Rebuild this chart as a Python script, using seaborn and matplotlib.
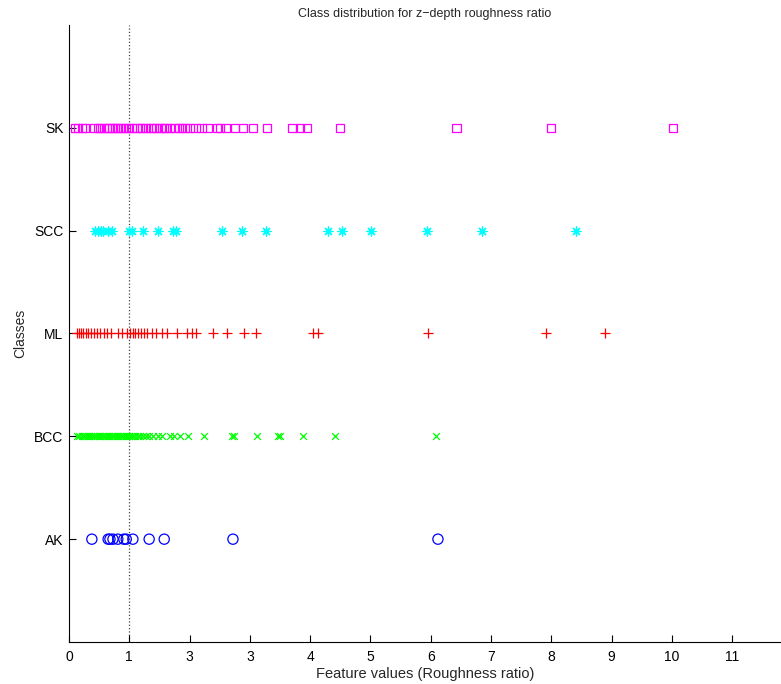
import pandas as pd
import seaborn as sns
import matplotlib.pyplot as plt

# class names (bottom to top) and feature values
classes = ["AK", "BCC", "ML", "SCC", "SK"]

ak_vals = [0.38, 0.65, 0.68, 0.73, 0.81, 0.91, 0.95, 1.06, 1.33, 1.58, 2.72, 6.12]

bcc_vals = [0.13, 0.17, 0.21, 0.25, 0.28, 0.31, 0.34, 0.37, 0.40, 0.43, 0.46,
            0.49, 0.52, 0.55, 0.58, 0.61, 0.64, 0.67, 0.70, 0.73, 0.76, 0.79,
            0.82, 0.85, 0.88, 0.91, 0.94, 0.97, 1.00, 1.03, 1.06, 1.10, 1.14,
            1.18, 1.22, 1.27, 1.33, 1.40, 1.47, 1.55, 1.67, 1.75, 1.84, 1.97,
            2.24, 2.70, 2.74, 3.12, 3.47, 3.50, 3.88, 4.41, 6.09]

ml_vals = [0.13, 0.17, 0.20, 0.24, 0.28, 0.32, 0.37, 0.42, 0.47, 0.52, 0.58,
           0.63, 0.70, 0.81, 0.88, 0.96, 1.01, 1.06, 1.10, 1.15, 1.20, 1.25,
           1.30, 1.38, 1.45, 1.54, 1.63, 1.79, 1.96, 2.04, 2.11, 2.39, 2.62,
           2.90, 3.10, 4.05, 4.13, 5.95, 7.91, 8.89]

scc_vals = [0.43, 0.48, 0.53, 0.56, 0.65, 0.71, 1.00, 1.04, 1.23, 1.48, 1.72,
            1.77, 2.54, 2.87, 3.27, 4.30, 4.53, 5.01, 5.94, 6.85, 8.41]

sk_vals = [0.10, 0.15, 0.22, 0.27, 0.42, 0.48, 0.52, 0.58, 0.63, 0.67, 0.72,
           0.76, 0.80, 0.85, 0.90, 0.95, 1.00, 1.05, 1.12, 1.18, 1.22, 1.28,
           1.35, 1.40, 1.45, 1.52, 1.58, 1.62, 1.68, 1.75, 1.82, 1.87, 1.92,
           2.00, 2.10, 2.20, 2.30, 2.45, 2.50, 2.60, 2.75, 2.89, 3.05, 3.28,
           3.71, 3.83, 3.95, 4.49, 6.43, 7.99, 10.02]

x_ticks = [0, 1, 2, 3, 4, 5, 6, 7, 8, 9, 10, 11]
x_tick_labels = ["0", "1", "3", "3", "4", "5", "6", "7", "8", "9", "10", "11"]

sns.set_style("white")
plt.rcParams["font.family"] = ["Liberation Sans", "DejaVu Sans"]
plt.rcParams["xtick.direction"] = "in"
plt.rcParams["ytick.direction"] = "in"
plt.rcParams["xtick.bottom"] = True
plt.rcParams["ytick.left"] = True

fig = plt.figure(figsize=(7.81, 6.84), dpi=100)
ax = fig.add_axes([0.0883, 0.0614, 0.9117, 0.9021])

# one style per class: (values, marker, color, size, line-only marker?)
styles = [
    (ak_vals, "o", "#0000ff", 54, False),
    (bcc_vals, "x", "#00ff00", 24, True),
    (ml_vals, "+", "#ff0000", 46, True),
    (scc_vals, (8, 2, 0), "#00ffff", 42, True),
    (sk_vals, "s", "#ff00ff", 36, False),
]

for i, (vals, marker, color, size, line_marker) in enumerate(styles):
    df = pd.DataFrame({"value": vals, "pos": i + 1})
    if line_marker:
        sns.scatterplot(data=df, x="value", y="pos", marker=marker, s=size,
                        color=color, linewidth=0.9, ax=ax, legend=False)
    else:
        sns.scatterplot(data=df, x="value", y="pos", marker=marker, s=size,
                        color=color, facecolor="none", edgecolor=color,
                        linewidth=0.9, ax=ax, legend=False)

# reference line at ratio 1
ax.axvline(1, linestyle=":", color="#444444", linewidth=0.9, zorder=0)

ax.set_xlim(0, 11.81)
ax.set_ylim(0, 6)
ax.set_xticks(x_ticks)
ax.set_xticklabels(x_tick_labels)
ax.set_yticks(range(1, 6))
ax.set_yticklabels(classes)
ax.tick_params(axis="both", length=5, width=0.8, labelsize=10, colors="black",
               pad=4)
ax.tick_params(axis="x", pad=6)

for side in ["top", "right"]:
    ax.spines[side].set_visible(False)
for side in ["left", "bottom"]:
    ax.spines[side].set_color("black")
    ax.spines[side].set_linewidth(0.8)

ax.set_xlabel("Feature values (Roughness ratio)", fontsize=10.5, labelpad=2)
ax.set_ylabel("Classes", fontsize=10, labelpad=5)
ax.set_title("Class distribution for z\u2212depth roughness ratio", fontsize=9,
             pad=6)

fig.savefig("out.png", dpi=100)
